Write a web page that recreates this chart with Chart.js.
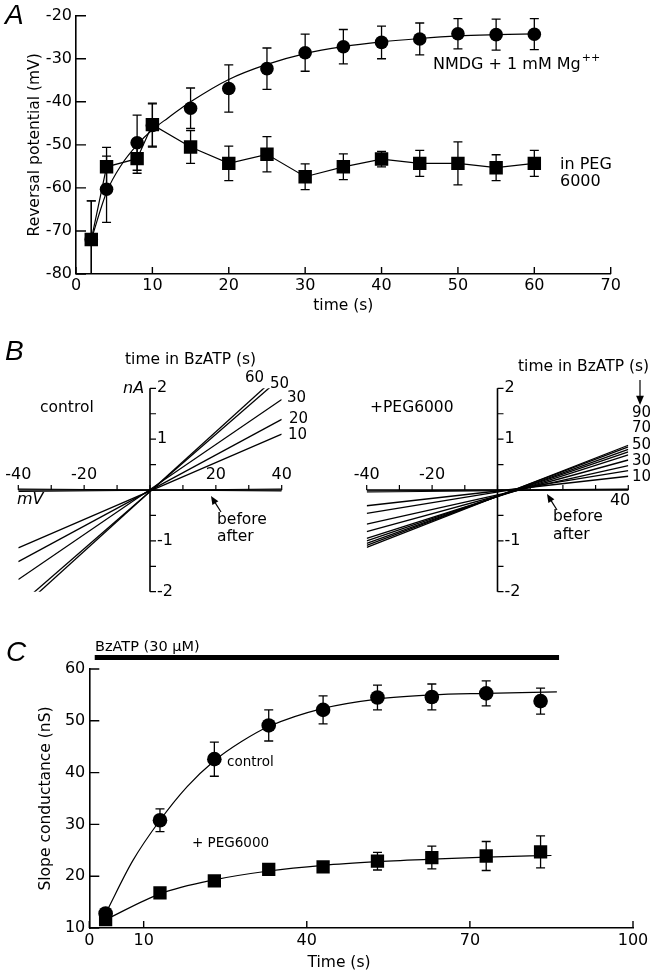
<!DOCTYPE html>
<html>
<head>
<meta charset="utf-8">
<title>Reversal potential, I-V curves and slope conductance</title>
<script src="https://cdn.jsdelivr.net/npm/chart.js@4.4.0/dist/chart.umd.min.js"></script>
<style>
  html, body { margin: 0; padding: 0; background: #fff; }
  #fig { position: relative; width: 658px; height: 974px; }
  #fig canvas { position: absolute; left: 0; top: 0; }
</style>
</head>
<body>
<div id="fig">
  <canvas id="chartA" width="658" height="974"></canvas>
  <canvas id="chartB1" width="658" height="974"></canvas>
  <canvas id="chartB2" width="658" height="974"></canvas>
  <canvas id="chartC" width="658" height="974"></canvas>
</div>
<script>
// ---- Panel A : reversal potential vs time ----
const timeA = [2, 4, 8, 10, 15, 20, 25, 30, 35, 40, 45, 50, 55, 60];
const nmdgA = [-72, -60.3, -49.5, -45.5, -41.5, -36.9, -32.3, -28.6, -27.2, -26.2, -25.4, -24.2, -24.4, -24.3];
const nmdgErrA = [9, 7.7, 6.4, 5, 4.7, 5.5, 4.8, 4.3, 4, 3.8, 3.7, 3.5, 3.6, 3.6];
const pegA = [-72, -55.1, -53.2, -45.3, -50.5, -54.3, -52.2, -57.4, -55.1, -53.3, -54.3, -54.3, -55.3, -54.3];
const pegErrA = [9, 4.5, 3.4, 5, 3.8, 4, 4.1, 3, 3, 1.8, 3, 5, 3, 3];
// fitted curve through the NMDG points
const fitTimeA = [2, 4, 6, 8, 10, 12, 15, 20, 25, 30, 35, 40, 45, 50, 55, 60];
const fitA = [-72, -61, -54.5, -50, -46.5, -43.8, -40, -34.8, -31.3, -28.8, -27.2, -26.1, -25.3, -24.7, -24.4, -24.2];

// ---- Panel B : I-V ramps (current in nA at -40 and +40 mV) ----
const rampMV = [-40, 40];
const ivTicksX = [-40, -30, -20, -10, 0, 10, 20, 30, 40];
const ivTicksY = [-2, -1.5, -1, -0.5, 0, 0.5, 1, 1.5, 2];
const ivLabelsY = [-2, -1, 1, 2];
const ctlTimes = ['10', '20', '30', '50', '60'];
const ctlAtNeg40 = [-1.14, -1.41, -1.76, -2.28, -2.38];
const ctlAtPos40 = [1.10, 1.39, 1.78, 2.22, 2.32];
const ctlBaseNeg40 = [-0.03, 0.02];   // before / after
const ctlBasePos40 = [0.02, -0.02];
const pegTimes = ['10', '20', '30', '40', '50', '60', '70', '80', '90'];
const pegAtNeg40 = [-0.31, -0.46, -0.67, -0.82, -0.95, -1.0, -1.05, -1.09, -1.13];
const pegAtPos40 = [0.27, 0.38, 0.48, 0.59, 0.69, 0.75, 0.80, 0.85, 0.88];
const pegBaseNeg40 = [-0.04, -0.02];
const pegBasePos40 = [0.01, 0.02];

// ---- Panel C : slope conductance vs time ----
const timeC = [3, 13, 23, 33, 43, 53, 63, 73, 83];
const controlC = [12.8, 30.8, 42.6, 49.1, 52.1, 54.5, 54.6, 55.3, 53.8];
const controlErrC = [0.8, 2.2, 3.3, 3, 2.7, 2.4, 2.5, 2.4, 2.5];
const pegC = [11.6, 16.8, 19.1, 21.3, 21.8, 22.9, 23.6, 23.9, 24.7];
const pegErrC = [0.5, 0.6, 0.8, 0.8, 1, 1.7, 2.2, 2.8, 3.1];
const fitTimeCtlC = [3, 8, 13, 18, 23, 28, 33, 43, 53, 63, 73, 86];
const fitCtlC = [12.8, 23, 30.8, 37.3, 42.3, 46, 48.9, 52.4, 54.2, 55, 55.3, 55.6];
const fitTimePegC = [3, 13, 23, 33, 43, 53, 63, 73, 85];
const fitPegC = [11.6, 16.6, 19.3, 21, 22.1, 22.8, 23.3, 23.7, 24];
const ticksXC = [0, 10, 40, 70, 100];
const bzatpTimes = [1, 86.4];   // BzATP application bar
const bzatpLevel = 62.2;

// ---- shared styling ----
const FONT = '"DejaVu Sans", sans-serif';
const BLACK = '#000';
const LETTER = 'italic 28px "Liberation Sans", sans-serif';
const f = (size, style) => (style ? style + ' ' : '') + size + 'px ' + FONT;
const xy = (xs, ys) => xs.map((x, i) => ({ x: x, y: ys[i] }));

function drawArrow(ctx, a) {
  const ang = Math.atan2(a.y2 - a.y1, a.x2 - a.x1);
  const h = a.head || 8;
  ctx.lineWidth = 1.2;
  ctx.beginPath();
  ctx.moveTo(a.x1, a.y1);
  ctx.lineTo(a.x2 - Math.cos(ang) * h * 0.8, a.y2 - Math.sin(ang) * h * 0.8);
  ctx.stroke();
  ctx.beginPath();
  ctx.moveTo(a.x2, a.y2);
  ctx.lineTo(a.x2 - h * Math.cos(ang - 0.4), a.y2 - h * Math.sin(ang - 0.4));
  ctx.lineTo(a.x2 - h * Math.cos(ang + 0.4), a.y2 - h * Math.sin(ang + 0.4));
  ctx.closePath();
  ctx.fill();
}

// free text and arrows
function makeNotes(items, arrows) {
  return {
    id: 'notes',
    afterDraw(chart) {
      const ctx = chart.ctx;
      ctx.save();
      ctx.fillStyle = BLACK;
      ctx.strokeStyle = BLACK;
      ctx.textBaseline = 'middle';
      items.forEach(n => {
        ctx.font = n.font;
        ctx.textAlign = n.align || 'left';
        ctx.fillText(n.text, n.x, n.y);
        if (n.sup) {
          const w = ctx.measureText(n.text).width;
          ctx.font = f(11);
          ctx.textAlign = 'left';
          ctx.fillText(n.sup, n.x + w + 1, n.y - 7);
        }
      });
      (arrows || []).forEach(a => drawArrow(ctx, a));
      ctx.restore();
    }
  };
}

// tick marks pointing into the plot
function makeInTicks(lenX, lenY) {
  return {
    id: 'inTicks',
    afterDraw(chart) {
      const ctx = chart.ctx;
      const xs = chart.scales.x, ys = chart.scales.y;
      ctx.save();
      ctx.strokeStyle = BLACK;
      ctx.lineWidth = 1.4;
      ctx.beginPath();
      xs.ticks.forEach(t => {
        const p = xs.getPixelForValue(t.value);
        ctx.moveTo(p, xs.top); ctx.lineTo(p, xs.top - lenX);
      });
      ys.ticks.forEach(t => {
        const p = ys.getPixelForValue(t.value);
        ctx.moveTo(ys.right, p); ctx.lineTo(ys.right + lenY, p);
      });
      ctx.stroke();
      ctx.restore();
    }
  };
}

function makeErrorBars(cap) {
  return {
    id: 'errorBars',
    beforeDatasetsDraw(chart) {
      const ctx = chart.ctx, a = chart.chartArea;
      ctx.save();
      ctx.beginPath();
      ctx.rect(a.left, a.top, a.right - a.left, a.bottom - a.top);
      ctx.clip();
      ctx.strokeStyle = BLACK;
      ctx.lineWidth = 1.3;
      chart.data.datasets.forEach((ds, i) => {
        if (!ds.errors) return;
        const meta = chart.getDatasetMeta(i);
        const ys = chart.scales[meta.yAxisID];
        ctx.beginPath();
        meta.data.forEach((pt, j) => {
          const v = ds.data[j].y, e = ds.errors[j];
          const hi = ys.getPixelForValue(v + e), lo = ys.getPixelForValue(v - e);
          ctx.moveTo(pt.x, hi); ctx.lineTo(pt.x, lo);
          ctx.moveTo(pt.x - cap, hi); ctx.lineTo(pt.x + cap, hi);
          ctx.moveTo(pt.x - cap, lo); ctx.lineTo(pt.x + cap, lo);
        });
        ctx.stroke();
      });
      ctx.restore();
    }
  };
}

// axes crossing at the origin for the I-V plots
function makeCrossAxes(labelsAbove, labelsBelow) {
  return {
    id: 'crossAxes',
    beforeDatasetsDraw(chart) {
      const ctx = chart.ctx;
      const xs = chart.scales.x, ys = chart.scales.y;
      const x0 = xs.getPixelForValue(0), y0 = ys.getPixelForValue(0);
      ctx.save();
      ctx.strokeStyle = BLACK;
      ctx.fillStyle = BLACK;
      ctx.lineWidth = 1.6;
      ctx.beginPath();
      ctx.moveTo(xs.getPixelForValue(-40), y0); ctx.lineTo(xs.getPixelForValue(40), y0);
      ctx.moveTo(x0, ys.getPixelForValue(-2)); ctx.lineTo(x0, ys.getPixelForValue(2));
      ctx.stroke();
      ctx.lineWidth = 1.2;
      ctx.beginPath();
      ivTicksX.forEach(v => {
        const p = xs.getPixelForValue(v);
        ctx.moveTo(p, y0); ctx.lineTo(p, y0 - 5);
      });
      ivTicksY.forEach(v => {
        const p = ys.getPixelForValue(v);
        ctx.moveTo(x0, p); ctx.lineTo(x0 + 6, p);
      });
      ctx.stroke();
      ctx.font = f(16);
      ctx.textBaseline = 'middle';
      ctx.textAlign = 'center';
      labelsAbove.forEach(v => ctx.fillText(String(v), xs.getPixelForValue(v), y0 - 15));
      ctx.textAlign = 'right';
      labelsBelow.forEach(v => ctx.fillText(String(v), xs.getPixelForValue(v) + 2, y0 + 11));
      ctx.textAlign = 'left';
      ivLabelsY.forEach(v => ctx.fillText(String(v), x0 + 7, ys.getPixelForValue(v)));
      ctx.restore();
    }
  };
}

const common = {
  responsive: false,
  animation: false,
  events: [],
  plugins: { legend: { display: false }, tooltip: { enabled: false } }
};

function marker(style, radius) {
  return {
    pointStyle: style, pointRadius: radius,
    pointBackgroundColor: BLACK, pointBorderColor: BLACK, pointBorderWidth: 0
  };
}

function axis(min, max, step, padding, titleText, fitFn) {
  return {
    type: 'linear', min: min, max: max,
    ticks: { stepSize: step, color: BLACK, font: { family: FONT, size: 16 }, padding: padding, maxRotation: 0 },
    grid: { display: false, drawTicks: false },
    border: { color: BLACK, width: 1.6 },
    title: { display: !!titleText, text: titleText || '', color: BLACK, font: { family: FONT, size: 15.5 }, padding: 0 },
    afterFit: fitFn
  };
}

// ---------- Panel A ----------
new Chart(document.getElementById('chartA'), {
  type: 'line',
  data: {
    datasets: [
      Object.assign({ label: 'in PEG 6000', data: xy(timeA, pegA), errors: pegErrA,
        borderColor: BLACK, borderWidth: 1.2 }, marker('rect', 9.5)),
      Object.assign({ label: 'NMDG + 1 mM Mg++', data: xy(timeA, nmdgA), errors: nmdgErrA,
        showLine: false }, marker('circle', 6.8)),
      { label: 'fit', data: xy(fitTimeA, fitA), borderColor: BLACK, borderWidth: 1.2,
        pointRadius: 0, cubicInterpolationMode: 'monotone' }
    ]
  },
  options: Object.assign({}, common, {
    layout: { padding: { left: 25.7, top: 15.7, right: 47.3, bottom: 658.7 } },
    scales: {
      x: axis(0, 70, 10, 2, 'time (s)', s => { s.height = 41.3; }),
      y: axis(-80, -20, 10, 4, 'Reversal potential (mV)', s => { s.width = 50.3; })
    }
  }),
  plugins: [
    makeErrorBars(4.5), makeInTicks(7, 10),
    makeNotes([
      { text: 'A', x: 5, y: 16, font: LETTER },
      { text: 'NMDG + 1 mM Mg', sup: '++', x: 433, y: 65, font: f(16) },
      { text: 'in PEG', x: 560, y: 165, font: f(16) },
      { text: '6000', x: 560, y: 182, font: f(16) }
    ])
  ]
});

// ---------- Panel B ----------
function ivDatasets(times, neg, pos, baseNeg, basePos) {
  const sets = times.map((t, i) => ({
    label: t + ' s', data: xy(rampMV, [neg[i], pos[i]]),
    borderColor: BLACK, borderWidth: 1.3, pointRadius: 0
  }));
  baseNeg.forEach((v, i) => sets.push({
    label: i ? 'after' : 'before', data: xy(rampMV, [v, basePos[i]]),
    borderColor: BLACK, borderWidth: 1, pointRadius: 0
  }));
  return sets;
}

function ivOptions(padLeft, padRight) {
  return Object.assign({}, common, {
    layout: { padding: { left: padLeft, right: padRight, top: 388.3, bottom: 382.3 } },
    scales: {
      x: { type: 'linear', min: -40, max: 40, display: false },
      y: { type: 'linear', min: -2, max: 2, display: false }
    }
  });
}

new Chart(document.getElementById('chartB1'), {
  type: 'line',
  data: { datasets: ivDatasets(ctlTimes, ctlAtNeg40, ctlAtPos40, ctlBaseNeg40, ctlBasePos40) },
  options: ivOptions(18.3, 376.3),
  plugins: [
    makeCrossAxes([-40, -20, 20, 40], []),
    makeNotes([
      { text: 'B', x: 5, y: 352, font: LETTER },
      { text: 'time in BzATP (s)', x: 125, y: 360, font: f(15.5) },
      { text: '60', x: 245, y: 378, font: f(15) },
      { text: '50', x: 270, y: 384, font: f(15) },
      { text: '30', x: 287, y: 398, font: f(15) },
      { text: '20', x: 289, y: 419, font: f(15) },
      { text: '10', x: 288, y: 435, font: f(15) },
      { text: 'nA', x: 123, y: 389, font: f(16, 'italic') },
      { text: 'control', x: 40, y: 408, font: f(15.5) },
      { text: 'mV', x: 17, y: 500, font: f(16, 'italic') },
      { text: 'before', x: 217, y: 520, font: f(15.5) },
      { text: 'after', x: 217, y: 537, font: f(15.5) }
    ], [
      { x1: 221, y1: 512, x2: 211, y2: 496, head: 9 }
    ])
  ]
});

new Chart(document.getElementById('chartB2'), {
  type: 'line',
  data: { datasets: ivDatasets(pegTimes, pegAtNeg40, pegAtPos40, pegBaseNeg40, pegBasePos40) },
  options: ivOptions(366.7, 29.7),
  plugins: [
    makeCrossAxes([-40, -20], [40]),
    makeNotes([
      { text: 'time in BzATP (s)', x: 518, y: 367, font: f(15.5) },
      { text: '+PEG6000', x: 370, y: 408, font: f(15.5) },
      { text: '90', x: 632, y: 413, font: f(15) },
      { text: '70', x: 632, y: 428, font: f(15) },
      { text: '50', x: 632, y: 445, font: f(15) },
      { text: '30', x: 632, y: 461, font: f(15) },
      { text: '10', x: 632, y: 477, font: f(15) },
      { text: 'before', x: 553, y: 517, font: f(15.5) },
      { text: 'after', x: 553, y: 535, font: f(15.5) }
    ], [
      { x1: 557, y1: 510, x2: 547, y2: 494, head: 9 },
      { x1: 640, y1: 380, x2: 640, y2: 405, head: 10 }
    ])
  ]
});

// ---------- Panel C ----------
new Chart(document.getElementById('chartC'), {
  type: 'line',
  data: {
    datasets: [
      Object.assign({ label: 'control', data: xy(timeC, controlC), errors: controlErrC,
        showLine: false }, marker('circle', 7.3)),
      Object.assign({ label: '+ PEG6000', data: xy(timeC, pegC), errors: pegErrC,
        showLine: false }, marker('rect', 9.4)),
      { label: 'control fit', data: xy(fitTimeCtlC, fitCtlC), borderColor: BLACK, borderWidth: 1.2,
        pointRadius: 0, cubicInterpolationMode: 'monotone' },
      { label: 'PEG fit', data: xy(fitTimePegC, fitPegC), borderColor: BLACK, borderWidth: 1.2,
        pointRadius: 0, cubicInterpolationMode: 'monotone' },
      { label: 'BzATP (30 µM)', data: xy(bzatpTimes, [bzatpLevel, bzatpLevel]), borderColor: BLACK,
        borderWidth: 5, pointRadius: 0, clip: false }
    ]
  },
  options: Object.assign({}, common, {
    layout: { padding: { left: 36.7, top: 669, right: 25, bottom: 6 } },
    scales: {
      x: Object.assign(axis(0, 100, 10, 3, '', s => { s.height = 40; }), {
        afterBuildTicks: s => { s.ticks = ticksXC.map(v => ({ value: v })); }
      }),
      y: axis(10, 60, 10, 4, 'Slope conductance (nS)', s => { s.width = 52.6; })
    }
  }),
  plugins: [
    makeErrorBars(4.5), makeInTicks(7, 10),
    makeNotes([
      { text: 'C', x: 6, y: 653, font: LETTER },
      { text: 'BzATP (30 µM)', x: 95, y: 647, font: f(14.5) },
      { text: 'control', x: 227, y: 762, font: f(13.5) },
      { text: '+ PEG6000', x: 192, y: 843, font: f(13.5) },
      { text: 'Time (s)', x: 339, y: 963, font: f(15.5), align: 'center' }
    ])
  ]
});
</script>
</body>
</html>
